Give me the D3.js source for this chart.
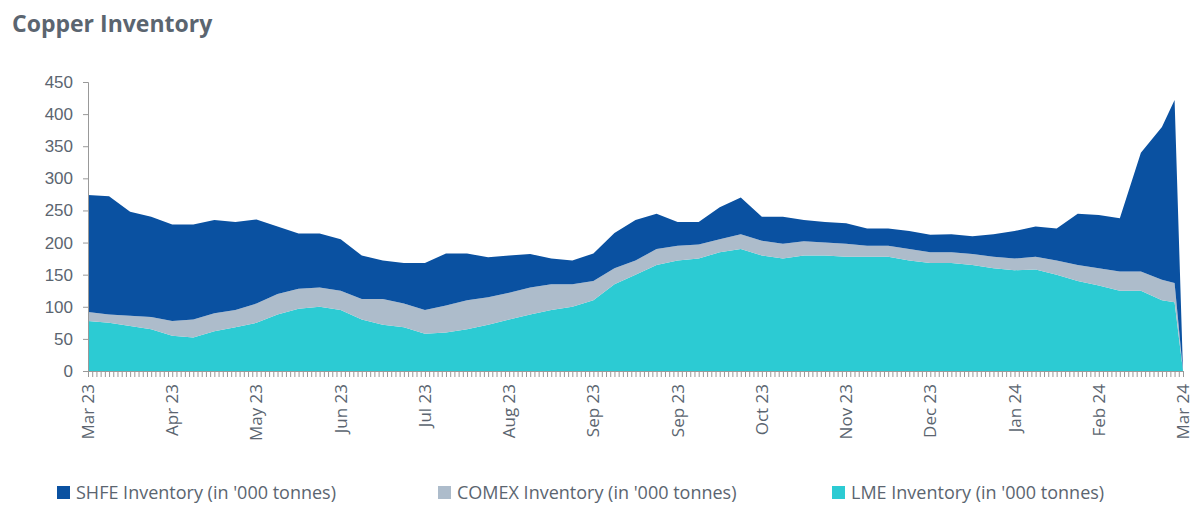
<!DOCTYPE html>
<html lang="en">
<head>
<meta charset="UTF-8">
<title>Copper Inventory</title>
<script src="https://d3js.org/d3.v7.min.js"></script>
<style>
  body { margin: 0; background: #fff; font-family: "Source Sans Pro", "Open Sans", "Noto Sans", sans-serif; }
  text { fill: #5b6570; }
</style>
</head>
<body>
<svg id="main" width="1200" height="520"></svg>
<script>
// business-day index of each weekly reading (260 = end of series)
const dayIdx = [0,5,10,15,20,25,30,35,40,45,50,55,60,65,70,75,80,85,90,95,100,105,110,115,120,125,
  130,135,140,145,150,155,160,165,170,175,180,185,190,195,200,205,210,215,220,225,230,235,240,245,250,255,258,260];
const lme = [78,75,70,65,55,52,62,68,75,88,97,100,95,80,72,68,58,60,65,72,80,88,95,100,110,135,
  150,165,172,175,185,190,180,175,180,180,178,178,178,172,168,168,165,160,157,158,150,140,133,125,125,110,107,0];
const comex = [14,13,16,19,23,28,28,27,30,32,31,30,30,32,40,37,37,42,45,43,42,42,40,35,30,25,
  22,25,23,22,20,23,23,23,22,20,20,17,17,18,17,17,17,18,18,20,22,25,27,30,30,32,30,0];
const shfe = [182,184,162,156,150,148,145,137,131,105,86,84,80,68,60,63,73,81,73,62,58,52,40,37,43,55,
  63,55,37,35,50,57,37,42,33,32,32,27,27,28,27,28,28,35,43,47,50,80,83,83,185,238,285,0];
const tickLabels = ["Mar 23","Apr 23","May 23","Jun 23","Jul 23","Aug 23","Sep 23","Sep 23","Oct 23","Nov 23","Dec 23","Jan 24","Feb 24","Mar 24"];
const yTicks = [0,50,100,150,200,250,300,350,400,450];
const seriesNames = ["LME Inventory (in '000 tonnes)","COMEX Inventory (in '000 tonnes)","SHFE Inventory (in '000 tonnes)"];
const colors = ["#2ccbd3","#adbccb","#0a51a1"];

const svg = d3.select('#main');
const x = d3.scaleLinear().domain([0, 260]).range([88, 1183]);
const y = d3.scaleLinear().domain([0, 450]).range([371, 82]);

const rows = dayIdx.map((d, i) => ({d: d, lme: lme[i], comex: comex[i], shfe: shfe[i]}));
const stack = d3.stack().keys(['lme','comex','shfe']);
const area = d3.area()
  .x(d => x(d.data.d))
  .y0(d => y(d[0]))
  .y1(d => y(d[1]));

svg.selectAll('path.layer').data(stack(rows)).enter().append('path')
  .attr('class','layer')
  .attr('fill', (d, i) => colors[i])
  .attr('d', area);

svg.append('text').attr('x', 12).attr('y', 32)
  .style('font-size', '23px').style('font-weight', 'bold').text('Copper Inventory');

// y axis
const yAxis = svg.append('g').attr('transform', 'translate(88,0)')
  .call(d3.axisLeft(y).tickValues(yTicks).tickSize(5).tickPadding(10));
yAxis.selectAll('text').style('font-size', '17px').style('fill', '#5b6570');
yAxis.selectAll('line, path').attr('stroke', '#999');

// x axis: minor tick per business day, labels every 20 days
const xAxis = svg.append('g').attr('transform', 'translate(0,371)')
  .call(d3.axisBottom(x).tickValues(d3.range(0, 261)).tickSize(6).tickFormat(''));
xAxis.selectAll('line, path').attr('stroke', '#999');
const labG = svg.append('g');
labG.selectAll('text').data(tickLabels).enter().append('text')
  .attr('transform', (d, i) => `translate(${x(i * 20) + 6},384) rotate(-90)`)
  .attr('text-anchor', 'end')
  .style('font-size', '17px')
  .text(d => d);

// legend
const legOrder = [2, 1, 0];
const legX = [57, 438, 832];
const leg = svg.append('g');
legOrder.forEach((s, j) => {
  leg.append('rect').attr('x', legX[j]).attr('y', 486).attr('width', 13).attr('height', 13).attr('fill', colors[s]);
  leg.append('text').attr('x', legX[j] + 19).attr('y', 499).style('font-size', '18px').text(seriesNames[s]);
});
</script>
</body>
</html>
